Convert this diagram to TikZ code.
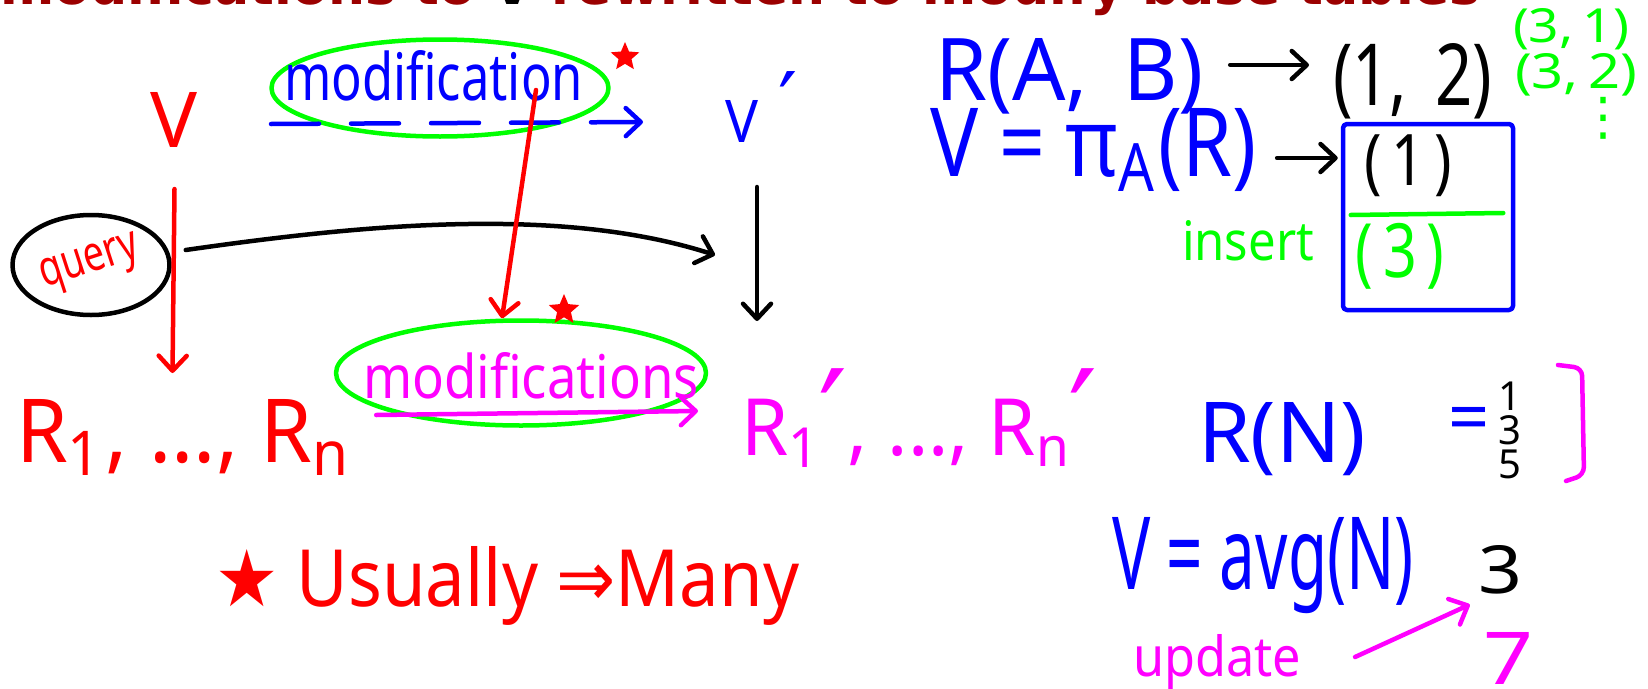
\documentclass[tikz,border=0pt]{standalone}
\usepackage{fontspec}
\usepackage{graphicx}
\setmainfont{Noto Sans}
\newfontfamily\titlefont{DejaVu Sans}
\newfontfamily\symfont{DejaVu Sans}
\usetikzlibrary{arrows.meta,calc,shapes.geometric}
\definecolor{hred}{RGB}{255,0,0}
\definecolor{hblue}{RGB}{0,0,255}
\definecolor{hgreen}{RGB}{0,255,0}
\definecolor{hmag}{RGB}{255,0,255}
\definecolor{titlered}{RGB}{155,0,0}
\newcommand\fsz[1]{\fontsize{#1}{#1}\selectfont}
\newcommand\fitto[3]{\resizebox{#1pt}{#2pt}{#3}}
\newcommand\pr{\kern-0.05em\raisebox{-0.15em}{\symfont\fontsize{17}{17}\selectfont ′}}
\begin{document}
\begin{tikzpicture}[x=1pt,y=-1pt,
  hand/.style={line width=4.5pt,line cap=round,line join=round},
  tip/.style={-{Straight Barb[length=15pt,width=28pt,round]}},
  txt/.style={inner sep=0pt,outer sep=0pt,anchor=base west},
  ring/.style={draw=hgreen,hand,ellipse,inner sep=0pt},
  starmark/.style={star,star points=5,star point ratio=2.2,fill=hred,inner sep=0pt}
]
\useasboundingbox (0,0) rectangle (1648,688);
\clip (0,0) rectangle (1648,688);
\fill[white] (0,0) rectangle (1648,688);

% title (cut at the top)
\node[anchor=base west,inner sep=0pt,text=titlered,font=\titlefont\bfseries\fsz{52}] (title) at (0,5)
  {\resizebox{1480pt}{!}{modifications to {\color{black}V} rewritten to modify base tables}};

% left diagram
\node[ring,minimum width=337pt,minimum height=97pt] (mod) at (440,88) {};
\node[txt,text=hblue] (modtxt) at (284,100) {\fitto{299}{50}{modification}};
\node[starmark,minimum size=30pt] (s1) at (625,57) {};

\node[txt,text=hred] (V) at (150,147) {\fitto{47}{55}{V}};
\node[txt,text=hblue] (Vp) at (725,142) {\fitto{33}{42}{V}\hspace{20pt}\raisebox{9pt}{\symfont\fsz{85}′}};

\draw[hand,hblue,tip,dash pattern=on 48pt off 32pt] ($(V.base east)+(74,-23)$) -- ($(Vp.base west)+(-82,-20)$);

\node[draw=black,hand,ellipse,minimum width=157pt,minimum height=100pt,inner sep=0pt,text=hred] (query) at (91,265)
  {\rotatebox{18}{\fitto{102}{27}{query}}};

\draw[hand,hred,tip] ($(V.base)+(1,42)$) -- ($(V.base)+(-1,226)$);

\coordinate (qend) at (715,255);
\draw[hand,tip] ($(query.east)+(14,-15)$) .. controls (360,225) and (560,205) .. (qend);

\node[ring,minimum width=370pt,minimum height=105pt] (mods) at (521,373) {};
\node[txt,text=hmag] (modstxt) at (363,398) {\fitto{336}{46}{modifications}};

\draw[hand,hred,tip] ($(mod.center)+(96,2)$) -- ($(mods.north)+(-19,0)$);
\node[starmark,minimum size=32pt] (s2) at (564,310) {};

\draw[hand,tip] ($(Vp.base west)+(32,45)$) -- ($(Vp.base west)+(32,179)$);

\node[txt,text=hred] (Rs) at (16,462) {\fitto{336}{63}{R\textsubscript{1}, ..., R\textsubscript{n}}};
\node[txt,text=hmag] (Rps) at (741,455) {\fitto{357}{86}{R\textsubscript{1}\pr, ..., R\textsubscript{n}\pr}};

\draw[hand,hmag,tip] ($(Rs.base east)+(24,-47)$) -- ($(Rps.base west)+(-43,-44)$);

\node[txt,text=hred] (usually) at (215,606) {\fitto{584}{60}{{\symfont ★} Usually {\symfont ⇒}Many}};

% right side
\node[txt,text=hblue] (RAB) at (935,100) {\fitto{268}{62}{R(A,\, B)}};
\node[txt] (t12) at (1333,105) {\fitto{159}{62}{(1,\, 2)}};
\draw[hand,tip] ($(RAB.base east)+(27,-35)$) -- ($(t12.base west)+(-24,-40)$);
\node[txt,text=hgreen] (t31) at (1513,42) {\fitto{116}{34}{(3,\,1)}};
\node[txt,text=hgreen] (t32) at (1515,88) {\fitto{122}{35}{(3,\,2)}};
\node[inner sep=0pt,text=hgreen,font=\symfont\fsz{52}] (vdots) at (1603,118) {⋮};

\node[txt,text=hblue] (VpiA) at (930,176) {\fitto{326}{68}{V = π\textsubscript{A}(R)}};
\node[draw=hblue,hand,minimum width=170pt,minimum height=186pt,inner sep=0pt,rounded corners=4pt] (box) at (1428,217) {};
\draw[hand,tip] ($(VpiA.base east)+(21,-18)$) -- ($(box.west)+(-3,-59)$);
\node[inner sep=0pt] (one) at (1408,166) {\resizebox*{88pt}{62pt}{(\,1\,)}};
\draw[hand,hgreen] ($(box.west)+(10,-2)$) -- ($(box.east)+(-12,-4)$);
\node[inner sep=0pt,text=hgreen] (g3) at (1400,256) {\resizebox*{89pt}{66pt}{(\,3\,)}};
\node[txt,text=hgreen] (insert) at (1182,260) {\fitto{132}{40}{insert}};

\draw[hand,hmag,rounded corners=8pt] (1558,365) -- (1582,368) -- (1584,475) -- (1566,481);
\node[txt,text=hblue] (RN) at (1198,462) {\fitto{168}{60}{R(N)}};
\node[txt,text=hblue,font=\fsz{72}] (eq) at (1448,442) {=};
\node[inner sep=0pt,align=center,font=\fontsize{40}{34}\selectfont] (d135) at (1510,430) {1\\3\\5};

\node[txt,text=hblue] (avg) at (1112,589) {\fitto{302}{72}{V = avg(N)}};
\node[inner sep=0pt] (b3) at (1500,570) {\fitto{44}{48}{3}};
\node[txt,text=hmag] (update) at (1133,676) {\fitto{168}{42}{update}};
\node[inner sep=0pt,text=hmag] (seven) at (1508,658) {\fitto{50}{52}{7}};
\draw[hand,hmag,tip] ($(update.base east)+(54,-19)$) -- ($(b3.south west)+(-8,10)$);
\end{tikzpicture}
\end{document}
